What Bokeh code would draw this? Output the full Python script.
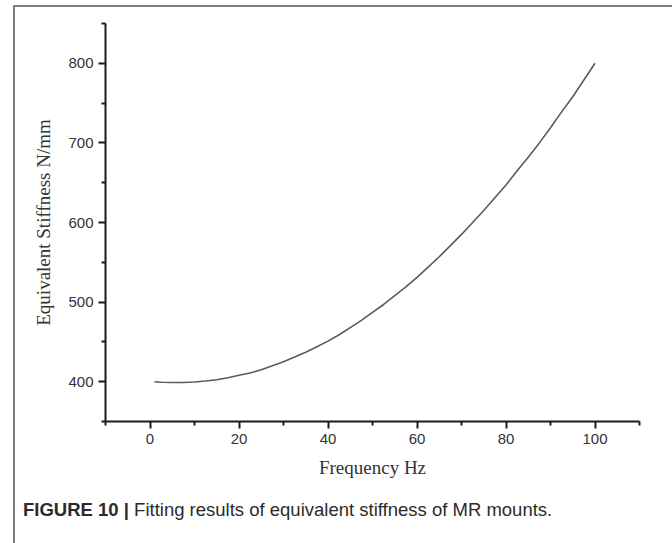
from bokeh.plotting import figure
from bokeh.models import Range1d, FixedTicker, Div
from bokeh.layouts import column
from bokeh.embed import file_html
from bokeh.resources import INLINE

# Fitted equivalent stiffness of the MR mount versus excitation frequency
frequency_hz = [1, 2.5, 5, 7.5, 10, 12.5, 15, 17.5, 20, 22.5, 25, 27.5, 30, 32.5, 35, 37.5,
                40, 42.5, 45, 47.5, 50, 52.5, 55, 57.5, 60, 62.5, 65, 67.5, 70, 72.5,
                75, 77.5, 80, 82.5, 85, 87.5, 90, 92.5, 95, 97.5, 100]
stiffness_n_per_mm = [400, 399.4, 399, 399, 399.6, 400.8, 402.5, 405, 408, 411, 415, 420, 425, 431, 437, 444,
                      451, 459, 468, 477, 487, 497, 508, 519, 531, 544, 557, 571, 585, 600,
                      615, 631, 647, 665, 682, 700, 719, 739, 758, 779, 800]

x_major = [0, 20, 40, 60, 80, 100]
x_minor = [-10, 10, 30, 50, 70, 90, 110]
y_major = [400, 500, 600, 700, 800]
y_minor = [350, 450, 550, 650, 750, 850]

caption_bold = "FIGURE 10 |"
caption_text = "Fitting results of equivalent stiffness of MR mounts."

p = figure(
    width=650, height=480,
    x_range=Range1d(-10, 110), y_range=Range1d(350, 850),
    output_backend="svg", toolbar_location=None,
    min_border_left=90, min_border_right=26,
    min_border_top=16, min_border_bottom=66,
)
p.outline_line_color = None
p.xgrid.visible = False
p.ygrid.visible = False
p.background_fill_color = "white"
p.border_fill_color = "white"

p.line(frequency_hz, stiffness_n_per_mm, line_color="#5a5a5a", line_width=1.6)

for ax, major, minor in ((p.xaxis[0], x_major, x_minor), (p.yaxis[0], y_major, y_minor)):
    ax.ticker = FixedTicker(ticks=major, minor_ticks=minor)
    ax.axis_line_color = "#1a1a1a"
    ax.axis_line_width = 2
    ax.major_tick_line_color = "#1a1a1a"
    ax.major_tick_line_width = 2
    ax.minor_tick_line_color = "#1a1a1a"
    ax.minor_tick_line_width = 2
    ax.major_tick_in = 0
    ax.major_tick_out = 7
    ax.minor_tick_in = 0
    ax.minor_tick_out = 4
    ax.major_label_text_font = "Liberation Sans"
    ax.major_label_text_font_size = "15px"
    ax.major_label_text_color = "#333333"
    ax.axis_label_text_font = "Liberation Serif"
    ax.axis_label_text_font_size = "19px"
    ax.axis_label_text_font_style = "normal"
    ax.axis_label_text_color = "#333333"

p.xaxis.axis_label = "Frequency Hz"
p.xaxis.major_label_standoff = 5
p.xaxis.axis_label_standoff = 10
p.yaxis.axis_label = "Equivalent Stiffness N/mm"
p.yaxis.major_label_standoff = 5
p.yaxis.axis_label_standoff = 11

caption = Div(
    text=f"<b>{caption_bold}</b> {caption_text}",
    width=650, height=56,
    styles={
        "font-family": "'Liberation Sans', Arial, sans-serif",
        "font-size": "18.5px",
        "color": "#2b2b2b",
        "padding-left": "3px",
        "padding-top": "5px",
    },
)

panel = column(
    p, caption,
    styles={
        "border-top": "2px solid #7f7f7f",
        "border-left": "2px solid #7f7f7f",
        "border-right": "2px solid #7f7f7f",
        "margin-left": "13px",
        "margin-top": "5px",
        "background-color": "white",
    },
)

open("out.html", "w").write(file_html(panel, INLINE))
